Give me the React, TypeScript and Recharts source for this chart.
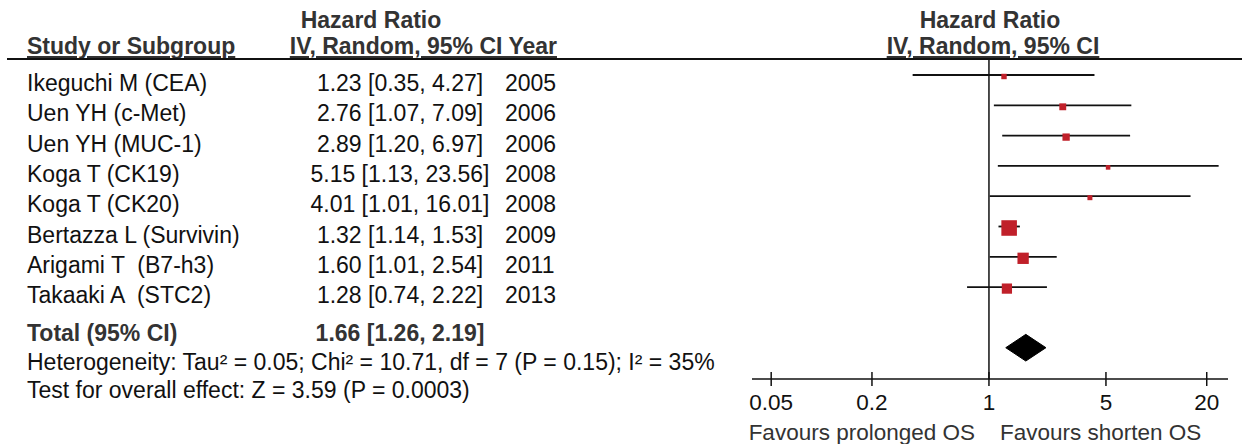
import { ComposedChart, Scatter, Area, ErrorBar, XAxis, YAxis, ReferenceLine } from 'recharts';

const studies = [
  'Ikeguchi M (CEA)',
  'Uen YH (c-Met)',
  'Uen YH (MUC-1)',
  'Koga T (CK19)',
  'Koga T (CK20)',
  'Bertazza L (Survivin)',
  'Arigami T  (B7-h3)',
  'Takaaki A  (STC2)',
];
const hazardRatios = [1.23, 2.76, 2.89, 5.15, 4.01, 1.32, 1.6, 1.28];
const lowerCI = [0.35, 1.07, 1.2, 1.13, 1.01, 1.14, 1.01, 0.74];
const upperCI = [4.27, 7.09, 6.97, 23.56, 16.01, 1.53, 2.54, 2.22];
const years = [2005, 2006, 2006, 2008, 2008, 2009, 2011, 2013];
// weights (%) estimated from the size of the squares
const weights = [4.5, 7.3, 8.2, 3.2, 3.8, 37.2, 19.7, 16.1];

const totalHR = 1.66;
const totalLower = 1.26;
const totalUpper = 2.19;

const xTicks = [0.05, 0.2, 1, 5, 20];

const W = 1242;
const H = 444;
const TOTAL_ROW = 9;
const DIAMOND_HALF = 0.44;
const RED = '#c0202a';
const INK = '#111';
const GREY = '#333';
const FONT = '"Liberation Sans", Arial, sans-serif';

const fmt = (v: number) => v.toFixed(2);
// keep the double spaces of the original labels
const keepSpaces = (s: string) => s.replace(/ {2}/g, ' \u00a0');

const studyData = studies.map((name, i) => ({
  name,
  x: hazardRatios[i],
  y: i,
  err: [hazardRatios[i] - lowerCI[i], upperCI[i] - hazardRatios[i]],
  w: weights[i],
}));

const diamondData = [
  { x: totalLower, band: [TOTAL_ROW, TOTAL_ROW] },
  { x: totalHR, band: [TOTAL_ROW - DIAMOND_HALF, TOTAL_ROW + DIAMOND_HALF] },
  { x: totalUpper, band: [TOTAL_ROW, TOTAL_ROW] },
];

function Square(props: any) {
  const { cx, cy, payload } = props;
  const s = 2.55 * Math.sqrt(payload.w);
  return <rect x={cx - s / 2} y={cy - s / 2 + 1.5} width={s} height={s} fill={RED} />;
}

function AxisTick(props: any) {
  const { x, y, payload } = props;
  return (
    <g>
      <line x1={x} x2={x} y1={y - 7} y2={y + 7} stroke={INK} strokeWidth={1.5} />
      <text x={x} y={y + 31} textAnchor="middle" fontSize={22.5} fill={INK} fontFamily={FONT}>
        {payload.value}
      </text>
    </g>
  );
}

function TableText() {
  const rowY = (i: number) => 91 + 30.3 * i;
  return (
    <svg
      width={W}
      height={H}
      style={{ position: 'absolute', left: 0, top: 0, pointerEvents: 'none' }}
      fontFamily={FONT}
      fontSize={23}
    >
      <text x={371} y={28} textAnchor="middle" fontWeight="bold" fill={GREY}>Hazard Ratio</text>
      <text x={990} y={28} textAnchor="middle" fontWeight="bold" fill={GREY}>Hazard Ratio</text>
      <text x={27} y={54} fontWeight="bold" fill={GREY} textDecoration="underline">Study or Subgroup</text>
      <text x={557} y={54} textAnchor="end" fontWeight="bold" fill={GREY} textDecoration="underline">
        IV, Random, 95% CI Year
      </text>
      <text x={993} y={54} textAnchor="middle" fontWeight="bold" fill={GREY} textDecoration="underline">
        IV, Random, 95% CI
      </text>
      <line x1={7} x2={W} y1={59} y2={59} stroke={INK} strokeWidth={2} />

      {studies.map((name, i) => (
        <g key={name} fill={INK}>
          <text x={27} y={rowY(i)}>{keepSpaces(name)}</text>
          <text x={400} y={rowY(i)} textAnchor="middle">
            {`${fmt(hazardRatios[i])} [${fmt(lowerCI[i])}, ${fmt(upperCI[i])}]`}
          </text>
          <text x={505} y={rowY(i)}>{years[i]}</text>
        </g>
      ))}

      <text x={27} y={341} fontWeight="bold" fill={GREY}>Total (95% CI)</text>
      <text x={400} y={341} textAnchor="middle" fontWeight="bold" fill={GREY}>
        {`${fmt(totalHR)} [${fmt(totalLower)}, ${fmt(totalUpper)}]`}
      </text>
      <text x={27} y={370} fill={INK}>
        Heterogeneity: Tau² = 0.05; Chi² = 10.71, df = 7 (P = 0.15); I² = 35%
      </text>
      <text x={27} y={398} fill={INK}>Test for overall effect: Z = 3.59 (P = 0.0003)</text>

      <text x={975} y={440} textAnchor="end" fontSize={22.5} fill={GREY}>Favours prolonged OS</text>
      <text x={1000} y={440} fontSize={22.5} fill={GREY}>Favours shorten OS</text>
    </svg>
  );
}

export default function App() {
  return (
    <div style={{ position: 'absolute', left: 0, top: 0, width: W, height: H, background: '#fff' }}>
      <ComposedChart
        width={W}
        height={H}
        data={diamondData}
        margin={{ top: 59, right: 14, bottom: 0, left: 752 }}
      >
        <XAxis
          dataKey="x"
          type="number"
          scale="log"
          domain={[0.0384, 26.8]}
          allowDataOverflow
          ticks={xTicks}
          interval={0}
          height={65}
          tickLine={false}
          tickSize={0}
          tickMargin={0}
          tick={<AxisTick />}
          axisLine={{ stroke: INK, strokeWidth: 1.5 }}
        />
        <YAxis type="number" dataKey="y" domain={[-0.528, 10.033]} reversed allowDataOverflow hide />
        <ReferenceLine x={1} stroke={INK} strokeWidth={1.5} />
        <Area
          type="linear"
          dataKey="band"
          stroke="#000"
          strokeWidth={1}
          fill="#000"
          fillOpacity={1}
          isAnimationActive={false}
          dot={false}
          activeDot={false}
        />
        <Scatter data={studyData} dataKey="y" shape={<Square />} isAnimationActive={false}>
          <ErrorBar dataKey="err" direction="x" width={0} stroke={INK} strokeWidth={1.8} />
        </Scatter>
      </ComposedChart>
      <TableText />
    </div>
  );
}
